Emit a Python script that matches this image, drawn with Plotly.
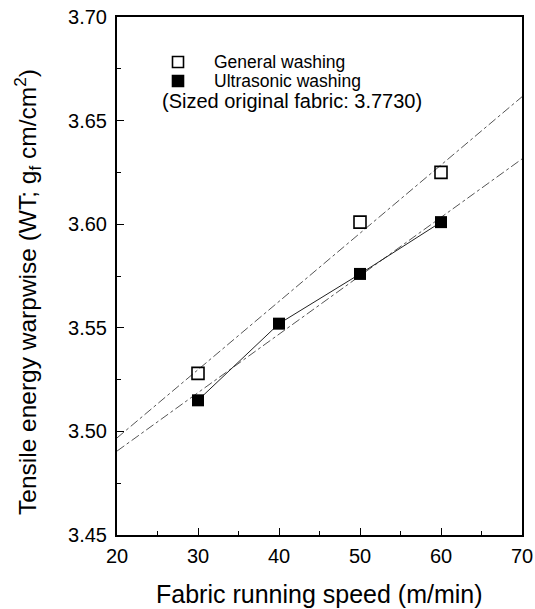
import numpy as np
import plotly.graph_objects as go

general_x = [30, 50, 60]
general_y = [3.528, 3.601, 3.625]
ultra_x = [30, 40, 50, 60]
ultra_y = [3.515, 3.552, 3.576, 3.601]
fit_x = [20, 70]

x_ticks = [20, 30, 40, 50, 60, 70]
y_ticks = [3.45, 3.50, 3.55, 3.60, 3.65, 3.70]

legend_labels = ["General washing", "Ultrasonic washing"]
note_text = "(Sized original fabric: 3.7730)"

def fit_line(xs, ys, xr):
    k, b = np.polyfit(xs, ys, 1)
    return [k * v + b for v in xr]

FONT = "Liberation Sans, Arial, sans-serif"
W, H = 535, 609
L, R, T, B = 117, 13, 17, 74
PW, PH = W - L - R, H - T - B

def px(x):
    return (x - L) / PW

def py(y):
    return 1 - (y - T) / PH

fig = go.Figure()
fig.add_trace(go.Scatter(x=fit_x, y=fit_line(general_x, general_y, fit_x), mode="lines",
                         line=dict(color="#555555", width=1, dash="dashdot"), showlegend=False))
fig.add_trace(go.Scatter(x=fit_x, y=fit_line(ultra_x, ultra_y, fit_x), mode="lines",
                         line=dict(color="#555555", width=1, dash="dashdot"), showlegend=False))
fig.add_trace(go.Scatter(x=ultra_x, y=ultra_y, mode="lines",
                         line=dict(color="#222222", width=1), showlegend=False))
fig.add_trace(go.Scatter(x=general_x, y=general_y, mode="markers", name=legend_labels[0], showlegend=False,
                         marker=dict(symbol="square-open", size=12, color="black", line=dict(width=1.6))))
fig.add_trace(go.Scatter(x=ultra_x, y=ultra_y, mode="markers", name=legend_labels[1], showlegend=False,
                         marker=dict(symbol="square", size=12, color="black")))

# manual legend (keys + labels) and note
key_half = 5.5
for i, (label, filled) in enumerate(zip(legend_labels, [False, True])):
    cy = 62 + i * 19
    fig.add_shape(type="rect", xref="paper", yref="paper",
                  x0=px(178 - key_half), x1=px(178 + key_half),
                  y0=py(cy + key_half), y1=py(cy - key_half),
                  line=dict(color="black", width=1.6),
                  fillcolor="black" if filled else "white")
    fig.add_annotation(text=label, xref="paper", yref="paper", x=px(212), y=py(cy),
                       xanchor="left", yanchor="middle", showarrow=False,
                       font=dict(family=FONT, size=17.5, color="black"))
fig.add_annotation(text=note_text, xref="paper", yref="paper", x=px(160), y=py(101),
                   xanchor="left", yanchor="middle", showarrow=False,
                   font=dict(family=FONT, size=20, color="black"))

# axis titles
fig.add_annotation(text="Fabric running speed (m/min)", xref="paper", yref="paper",
                   x=px(319), y=py(594), xanchor="center", yanchor="middle", showarrow=False,
                   font=dict(family=FONT, size=25, color="black"))
fig.add_annotation(text="Tensile energy warpwise (WT; g<sub>f</sub> cm/cm<sup>2</sup>)",
                   xref="paper", yref="paper", x=px(27), y=py(292), xanchor="center", yanchor="middle",
                   textangle=-90, showarrow=False, font=dict(family=FONT, size=24.5, color="black"))

axis_common = dict(showgrid=False, zeroline=False, showline=True, linecolor="black", linewidth=2,
                   mirror=True, ticks="inside", ticklen=7, tickwidth=1.2, tickcolor="black",
                   automargin=False, tickfont=dict(family=FONT, size=20, color="black"))

fig.update_xaxes(range=[20, 70], tickvals=x_ticks, ticktext=[str(v) for v in x_ticks],
                 minor=dict(dtick=5, ticks="inside", ticklen=4, tickcolor="black"),
                 ticklabelstandoff=2, **axis_common)
fig.update_yaxes(range=[3.45, 3.70], tickvals=y_ticks, ticktext=[f"{v:.2f}" for v in y_ticks],
                 minor=dict(dtick=0.025, ticks="inside", ticklen=4, tickcolor="black"),
                 ticklabelstandoff=4, **axis_common)

fig.update_layout(width=W, height=H, margin=dict(l=L, r=R, t=T, b=B, autoexpand=False),
                  plot_bgcolor="white", paper_bgcolor="white", showlegend=False)

fig.write_html("out.html", config={"displayModeBar": False},
               post_script="document.body.style.margin='0';document.body.style.overflow='hidden';")
